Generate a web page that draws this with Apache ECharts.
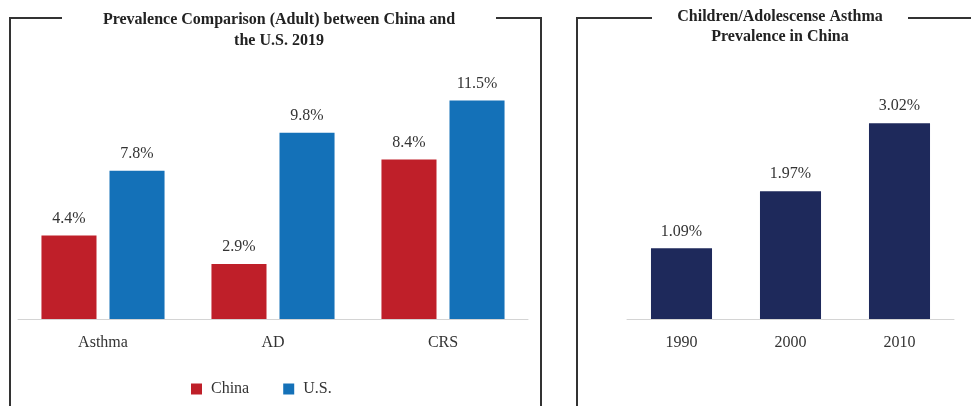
<!DOCTYPE html>
<html>
<head>
<meta charset="utf-8">
<script src="https://cdn.jsdelivr.net/npm/echarts@6/dist/echarts.min.js"></script>
<style>
  html, body { margin: 0; padding: 0; background: #fff; }
  #chart { width: 971px; height: 406px; }
</style>
</head>
<body>
<div id="chart"></div>
<script>
// Adult prevalence, China vs U.S., 2019
const adultCategories = ['Asthma', 'AD', 'CRS'];
const chinaValues = [4.4, 2.9, 8.4];
const usValues = [7.8, 9.8, 11.5];

// Children/adolescent asthma prevalence in China
const childYears = ['1990', '2000', '2010'];
const childValues = [1.09, 1.97, 3.02];

const FONT = '"Liberation Serif", "Times New Roman", serif';
const RED = '#BF1F29';
const BLUE = '#1471B8';
const NAVY = '#1E295B';
const BORDER = '#333333';

const chart = echarts.init(document.getElementById('chart'));

const valueLabel = {
  show: true,
  position: 'top',
  distance: 9,
  formatter: '{c}%',
  fontFamily: FONT,
  fontSize: 16,
  color: '#333'
};

const catAxisCommon = {
  type: 'category',
  axisTick: { show: false },
  axisLine: { lineStyle: { color: '#d4d4d4', width: 1 } },
  axisLabel: { fontFamily: FONT, fontSize: 16, color: '#333', margin: 16 }
};

const valAxisCommon = {
  type: 'value',
  min: 0,
  show: false,
  splitLine: { show: false }
};

chart.setOption({
  animation: false,
  backgroundColor: '#fff',
  textStyle: { fontFamily: FONT },
  title: [
    {
      text: 'Prevalence Comparison (Adult) between China and\nthe U.S. 2019',
      left: 279,
      top: 9,
      padding: 0,
      textAlign: 'center',
      textStyle: { fontFamily: FONT, fontSize: 16, fontWeight: 'bold', color: '#222', lineHeight: 21 }
    },
    {
      text: 'Children/Adolescense Asthma\nPrevalence in China',
      left: 780,
      top: 7,
      padding: 0,
      textAlign: 'center',
      textStyle: { fontFamily: FONT, fontSize: 16, fontWeight: 'bold', color: '#222', lineHeight: 20 }
    }
  ],
  legend: {
    data: ['China', 'U.S.'],
    left: 191,
    top: 381,
    padding: 0,
    itemWidth: 11,
    itemHeight: 11,
    itemGap: 34,
    icon: 'rect',
    textStyle: { fontFamily: FONT, fontSize: 16, color: '#333', padding: [0, 0, 0, 4] }
  },
  grid: [
    { left: 18, width: 510, top: 91, bottom: 87 },
    { left: 627, width: 327, top: 92, bottom: 87 }
  ],
  xAxis: [
    Object.assign({ gridIndex: 0, data: adultCategories }, catAxisCommon),
    Object.assign({ gridIndex: 1, data: childYears }, catAxisCommon)
  ],
  yAxis: [
    Object.assign({ gridIndex: 0, max: 12 }, valAxisCommon),
    Object.assign({ gridIndex: 1, max: 3.5 }, valAxisCommon)
  ],
  series: [
    {
      name: 'China',
      type: 'bar',
      xAxisIndex: 0,
      yAxisIndex: 0,
      data: chinaValues,
      itemStyle: { color: RED },
      barGap: '23.6%',
      barCategoryGap: '27.6%',
      label: valueLabel
    },
    {
      name: 'U.S.',
      type: 'bar',
      xAxisIndex: 0,
      yAxisIndex: 0,
      data: usValues,
      itemStyle: { color: BLUE },
      barGap: '23.6%',
      barCategoryGap: '27.6%',
      label: valueLabel
    },
    {
      name: 'Children',
      type: 'bar',
      xAxisIndex: 1,
      yAxisIndex: 1,
      data: childValues,
      itemStyle: { color: NAVY },
      barCategoryGap: '44%',
      label: valueLabel
    }
  ],
  graphic: [
    // frame around the adult comparison panel, broken by its title
    { type: 'polyline', silent: true, shape: { points: [[62, 18], [10, 18], [10, 406]] }, style: { stroke: BORDER, lineWidth: 2, fill: null } },
    { type: 'polyline', silent: true, shape: { points: [[496, 18], [541, 18], [541, 406]] }, style: { stroke: BORDER, lineWidth: 2, fill: null } },
    // frame around the children panel
    { type: 'polyline', silent: true, shape: { points: [[652, 18], [577, 18], [577, 406]] }, style: { stroke: BORDER, lineWidth: 2, fill: null } },
    { type: 'polyline', silent: true, shape: { points: [[908, 18], [971, 18]] }, style: { stroke: BORDER, lineWidth: 2, fill: null } }
  ]
});
</script>
</body>
</html>
